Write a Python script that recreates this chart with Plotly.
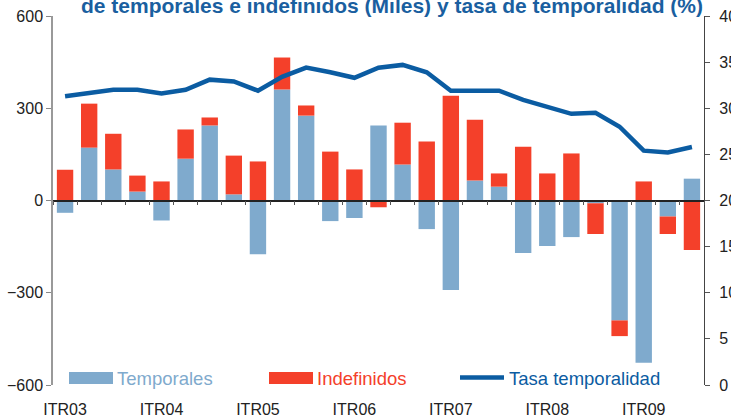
import plotly.graph_objects as go

quarters = []
for yr in ["03", "04", "05", "06", "07", "08", "09"]:
    for q in ["I", "II", "III", "IV"]:
        quarters.append(f"{q}TR{yr}")
categories = quarters[:27]
tick_labels = ["ITR03", "ITR04", "ITR05", "ITR06", "ITR07", "ITR08", "ITR09"]

temporales = [-40, 172, 101, 29, -65, 136, 244, 20, -175, 361, 276, -67, -57, 244,
              117, -93, -291, 65, 45, -171, -148, -119, -9, -390, -528, -52, 71]
indefinidos = [100, 143, 116, 52, 62, 95, 26, 126, 127, 104, 33, 159, 101, -22,
               136, 192, 341, 198, 43, 175, 88, 153, -100, -51, 62, -57, -161]
tasa = [31.3, 31.7, 32.0, 32.0, 31.6, 32.0, 33.1, 32.9, 31.9, 33.4, 34.4, 33.9, 33.3, 34.4,
        34.7, 33.9, 31.9, 31.9, 31.9, 30.9, 30.2, 29.4, 29.5, 28.0, 25.4, 25.2, 25.8]

BLUE_BAR = "#7faacd"
RED_BAR = "#f4402a"
LINE = "#0b5ca2"
TITLE = "#1a5fa0"
FONT = "Liberation Sans, Arial, sans-serif"

fig = go.Figure()
fig.add_trace(go.Bar(x=categories, y=temporales, name="Temporales",
                     marker=dict(color=BLUE_BAR, line=dict(width=0))))
fig.add_trace(go.Bar(x=categories, y=indefinidos, name="Indefinidos",
                     marker=dict(color=RED_BAR, line=dict(width=0))))
fig.add_trace(go.Scatter(x=categories, y=tasa, name="Tasa temporalidad", mode="lines",
                         line=dict(color=LINE, width=4.5), yaxis="y2"))
# helper trace that carries the zero-line category axis
fig.add_trace(go.Scatter(x=categories, y=[0] * len(categories), xaxis="x2", mode="markers",
                         marker=dict(opacity=0), hoverinfo="skip", showlegend=False))

L, R, T, B = 53, 27, 16, 31
W, H = 731, 416
pw, ph = W - L - R, H - T - B


def px(x):
    return (x - L) / pw


def py(y):
    return (H - B - y) / ph


shapes = [
    dict(type="rect", xref="paper", yref="paper", x0=px(69), x1=px(113), y0=py(384), y1=py(372),
         fillcolor=BLUE_BAR, line=dict(width=0)),
    dict(type="rect", xref="paper", yref="paper", x0=px(269), x1=px(313), y0=py(384), y1=py(372),
         fillcolor=RED_BAR, line=dict(width=0)),
    dict(type="line", xref="paper", yref="paper", x0=px(460), x1=px(504), y0=py(377.5), y1=py(377.5),
         line=dict(color=LINE, width=4.5)),
]
annotations = [
    dict(text="Temporales", xref="paper", yref="paper", x=px(115), y=py(378), xanchor="left",
         yanchor="middle", showarrow=False, font=dict(family=FONT, size=18.5, color=BLUE_BAR)),
    dict(text="Indefinidos", xref="paper", yref="paper", x=px(315), y=py(378), xanchor="left",
         yanchor="middle", showarrow=False, font=dict(family=FONT, size=18.5, color=RED_BAR)),
    dict(text="Tasa temporalidad", xref="paper", yref="paper", x=px(507), y=py(378), xanchor="left",
         yanchor="middle", showarrow=False, font=dict(family=FONT, size=18.5, color=LINE)),
    dict(text="<b>de temporales e indefinidos (Miles) y tasa de temporalidad (%)</b>",
         xref="paper", yref="paper", x=px(392), y=1, xanchor="center", yanchor="middle",
         yshift=11, showarrow=False,
         font=dict(family=FONT, size=21, color=TITLE)),
]

fig.update_layout(
    width=W, height=H,
    margin=dict(l=L, r=R, t=T, b=B, autoexpand=False),
    paper_bgcolor="white", plot_bgcolor="white",
    barmode="relative", bargap=0.32,
    showlegend=False,
    font=dict(family=FONT, size=14, color="#333333"),
    xaxis=dict(type="category", categoryorder="array", categoryarray=categories,
               range=[-0.5, len(categories) - 0.5], automargin=False,
               tickvals=tick_labels, ticktext=tick_labels,
               ticks="outside", ticklen=10, tickcolor="rgba(0,0,0,0)",
               showline=False, showgrid=False, zeroline=False,
               tickfont=dict(size=16, color="#222222")),
    xaxis2=dict(type="category", categoryorder="array", categoryarray=categories,
                range=[-0.5, len(categories) - 0.5], overlaying="x", anchor="free", position=0.5,
                automargin=False,
                showline=True, linecolor="#222222", linewidth=1.5,
                tickson="boundaries", ticks="outside", ticklen=4, tickcolor="#555555", tickwidth=1,
                showticklabels=False, showgrid=False, zeroline=False),
    yaxis=dict(range=[-600, 600], tickvals=[-600, -300, 0, 300, 600], automargin=False,
               ticks="outside", ticklen=5, tickcolor="#888888",
               showline=True, linecolor="#999999", linewidth=1.5,
               showgrid=False, zeroline=False, tickfont=dict(size=16, color="#222222")),
    yaxis2=dict(range=[0, 40], tickvals=[0, 5, 10, 15, 20, 25, 30, 35, 40], overlaying="y",
                side="right", anchor="x", automargin=False,
                ticks="outside", ticklen=5, tickcolor="#555555", ticklabelstandoff=6,
                showline=True, linecolor="#444444", linewidth=1.2,
                showgrid=False, zeroline=False, tickfont=dict(size=16, color="#222222")),
    shapes=shapes,
    annotations=annotations,
)

fig.write_html("out.html", config={"displayModeBar": False},
               post_script="document.body.style.margin='0px';")
